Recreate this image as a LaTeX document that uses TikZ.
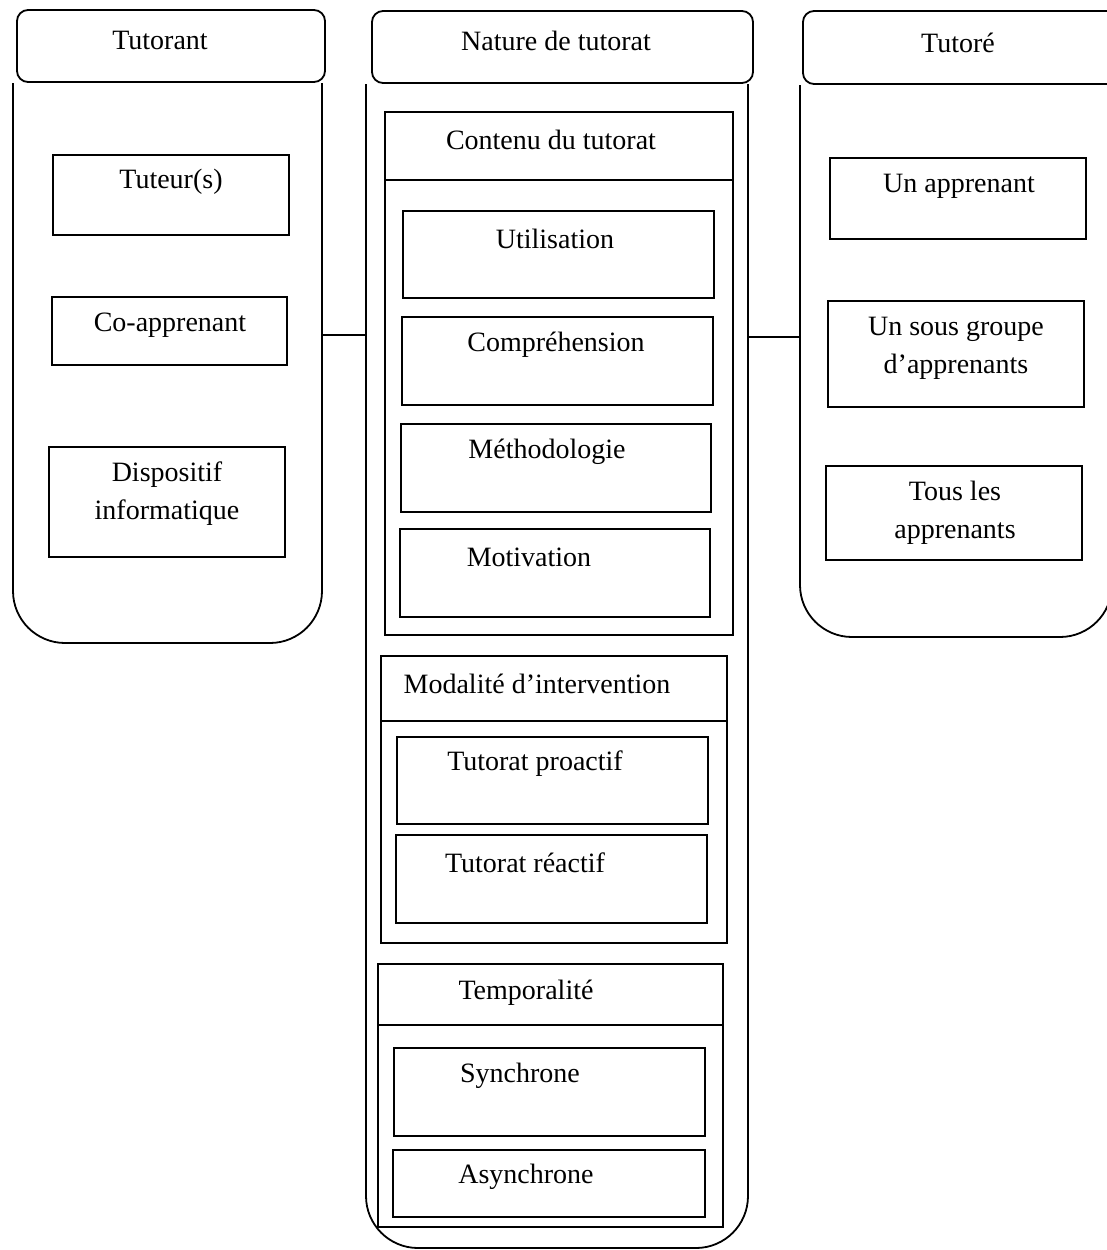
\documentclass[tikz,border=0pt]{standalone}
\usepackage{fontspec}
\setmainfont{Liberation Serif}
\begin{document}
\begin{tikzpicture}[x=1pt,y=-1pt,line width=1.8pt,
  lbl/.style={font=\fontsize{28}{38}\selectfont,inner sep=0pt,align=center},
  hdr/.style={draw,rounded corners=11pt},
  cont/.style={draw,rounded corners=52pt},
  sq/.style={draw}]
\useasboundingbox (0,0) rectangle (1107,1250);
\clip (0,0) rectangle (1107,1250);

% ---------- left container : Tutorant ----------
\draw[cont] (13,83) -- (13,643) -- (322,643) -- (322,83);
\draw[hdr] (17,10) rectangle (325,82);
\node[lbl] (tutorant) at (160,40) {Tutorant};
\draw[sq] (53,155) rectangle (289,235);
\node[lbl] (tuteur) at (171,182) {Tuteur(s)};
\draw[sq] (52,297) rectangle (287,365);
\node[lbl] (coapp) at (170,325) {Co-apprenant};
\draw[sq] (49,447) rectangle (285,557);
\node[lbl] (dispo) at (167,494) {Dispositif\\informatique};

% ---------- middle container : Nature de tutorat ----------
\draw[cont] (366,84) -- (366,1248) -- (748,1248) -- (748,84);
\draw[hdr] (372,11) rectangle (753,83);
\node[lbl] (nature) at (556,41) {Nature de tutorat};

% Contenu du tutorat
\draw[sq] (385,112) rectangle (733,635);
\draw (385,180) -- (733,180);
\node[lbl] (contenu) at (551,140) {Contenu du tutorat};
\draw[sq] (403,211) rectangle (714,298);
\node[lbl] (util) at (555,239) {Utilisation};
\draw[sq] (402,317) rectangle (713,405);
\node[lbl] (compr) at (556,345) {Compréhension};
\draw[sq] (401,424) rectangle (711,512);
\node[lbl] (metho) at (547,452) {Méthodologie};
\draw[sq] (400,529) rectangle (710,617);
\node[lbl] (motiv) at (529,557) {Motivation};

% Modalité d'intervention
\draw[sq] (381,656) rectangle (727,943);
\draw (381,721) -- (727,721);
\node[lbl] (modal) at (537,684) {Modalité d’intervention};
\draw[sq] (397,737) rectangle (708,824);
\node[lbl] (proact) at (535,764) {Tutorat proactif};
\draw[sq] (396,835) rectangle (707,923);
\node[lbl] (react) at (525,863) {Tutorat réactif};

% Temporalité
\draw[sq] (378,964) rectangle (723,1227);
\draw (378,1025) -- (723,1025);
\node[lbl] (tempo) at (526,993) {Temporalité};
\draw[sq] (394,1048) rectangle (705,1136);
\node[lbl] (sync) at (520,1076) {Synchrone};
\draw[sq] (393,1150) rectangle (705,1217);
\node[lbl] (async) at (526,1177) {Asynchrone};

% ---------- right container : Tutoré ----------
\draw[cont] (800,85) -- (800,637) -- (1112,637) -- (1112,85);
\draw[hdr] (803,11) rectangle (1125,84);
\node[lbl] (tutore) at (958,43) {Tutoré};
\draw[sq] (830,158) rectangle (1086,239);
\node[lbl] (unapp) at (959,186) {Un apprenant};
\draw[sq] (828,301) rectangle (1084,407);
\node[lbl] (sousgr) at (956,348) {Un sous groupe\\d’apprenants};
\draw[sq] (826,466) rectangle (1082,560);
\node[lbl] (tous) at (955,513) {Tous les\\apprenants};

% ---------- connectors ----------
\coordinate (lend) at (322,335);
\coordinate (mleft) at (366,335);
\coordinate (mright) at (748,337);
\coordinate (rend) at (800,337);
\draw (lend) -- (mleft);
\draw (mright) -- (rend);
\end{tikzpicture}
\end{document}
